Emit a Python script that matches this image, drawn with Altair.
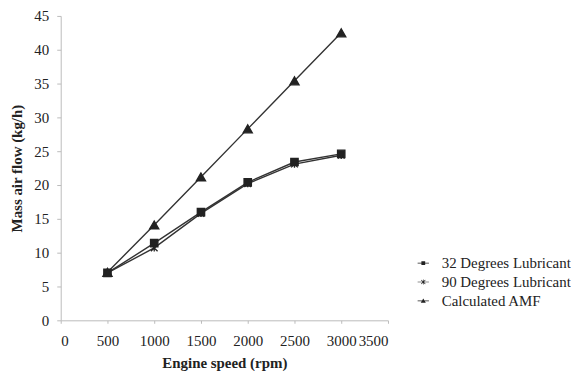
import altair as alt
import pandas as pd

speed = [500, 1000, 1500, 2000, 2500, 3000]
deg32 = [7.0, 11.4, 16.0, 20.4, 23.4, 24.6]
deg90 = [7.0, 10.7, 15.8, 20.2, 23.1, 24.4]
calc = [7.1, 14.1, 21.2, 28.3, 35.4, 42.5]
series = ["32 Degrees Lubricant", "90 Degrees Lubricant", "Calculated AMF"]

rows = []
for name, vals in zip(series, [deg32, deg90, calc]):
    for s, v in zip(speed, vals):
        rows.append({"speed": s, "amf": v, "series": name})
df = pd.DataFrame(rows)

FONT = "Liberation Serif"
INK = "#222222"

x = alt.X("speed:Q", title="Engine speed (rpm)",
          scale=alt.Scale(domain=[0, 3500], nice=False),
          axis=alt.Axis(values=[0, 500, 1000, 1500, 2000, 2500, 3000, 3500], format="d",
                        grid=False, tickSize=3, labelPadding=10, titlePadding=7))
y = alt.Y("amf:Q", title="Mass air flow (kg/h)",
          scale=alt.Scale(domain=[0, 45], nice=False),
          axis=alt.Axis(values=list(range(0, 50, 5)), grid=False,
                        tickSize=4, labelPadding=8, titlePadding=9))

point_shapes = ["square", "M-1,-1L1,1M-1,1L1,-1M0,-1.1V1.1", "triangle-up"]
point_sizes = [55, 45, 85]

# filled outlines (line segment + marker) for the legend symbols
LINE = "M-1.8,-0.11H1.8V0.11H-1.8Z"
legend_shapes = [
    LINE + "M-0.6,-0.6H0.6V0.6H-0.6Z",
    LINE + "M-0.58,-0.72L0.72,0.58L0.58,0.72L-0.72,-0.58Z"
         + "M-0.58,0.72L-0.72,0.58L0.58,-0.72L0.72,-0.58Z"
         + "M-0.1,-0.8H0.1V0.8H-0.1Z",
    LINE + "M0,-0.75L0.8,0.6H-0.8Z",
]

lines = alt.Chart(df).mark_line(color="#333333", strokeWidth=1.4).encode(
    x=x, y=y, detail="series:N")

point_layers = []
for name, shp, sz in zip(series, point_shapes, point_sizes):
    point_layers.append(
        alt.Chart(df).transform_filter(alt.datum.series == name).mark_point(
            filled=True, fill=INK, stroke=INK, strokeWidth=1.3, opacity=1,
            shape=shp, size=sz).encode(x=x, y=y))

legend_layer = alt.Chart(df).transform_filter("false").mark_point(
    filled=True, opacity=1).encode(
    x=x, y=y,
    fill=alt.value(INK),
    shape=alt.Shape("series:N", scale=alt.Scale(domain=series, range=legend_shapes),
                    legend=alt.Legend(title=None, orient="none", legendX=357, legendY=241,
                                      symbolSize=40, symbolFillColor=INK,
                                      symbolOpacity=1,
                                      labelFont=FONT, labelFontSize=15,
                                      labelColor=INK, rowPadding=3, labelOffset=11)))

chart = alt.layer(lines, *point_layers, legend_layer).properties(
    width=329, height=306, padding={"left": 2, "top": 0, "right": 0, "bottom": 0}
).configure_view(stroke=None).configure_axis(
    labelFont=FONT, titleFont=FONT, labelFontSize=15, titleFontSize=15,
    labelColor=INK, titleColor=INK, titleFontWeight="bold",
    domainColor="#bbbbbb", tickColor="#bbbbbb")

chart.save("out.html", embed_options={"renderer": "svg", "actions": False})
